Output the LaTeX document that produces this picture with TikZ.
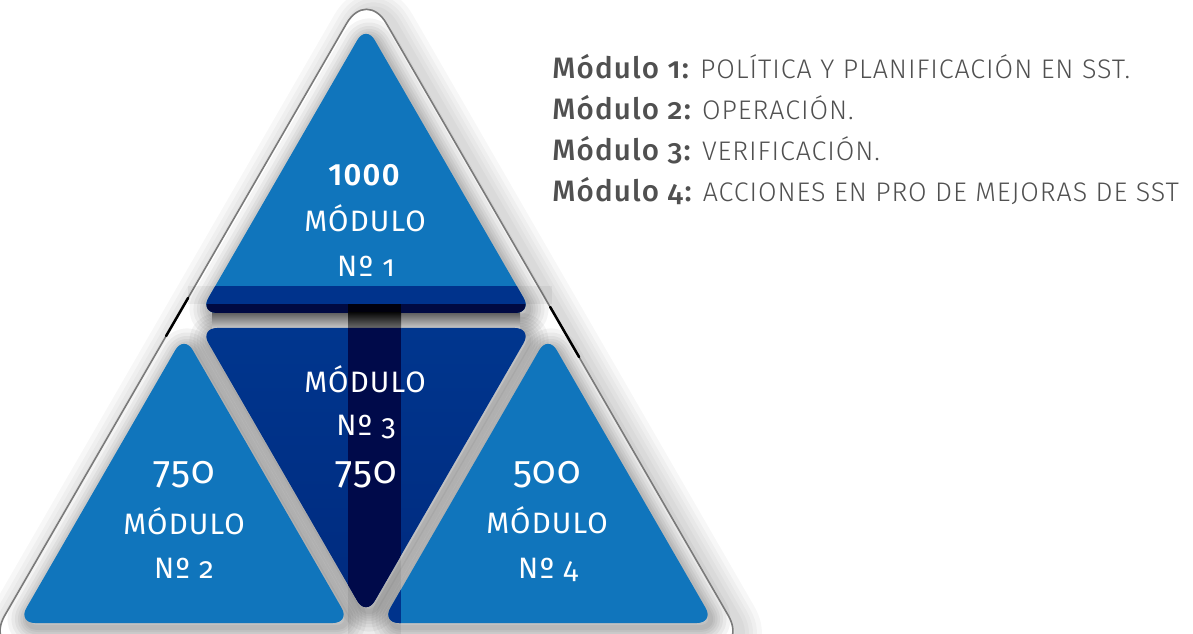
\documentclass[tikz,border=0pt]{standalone}
\usepackage{fontspec}
\IfFontExistsTF{Fira Sans Light}{%
  \newfontfamily\legf{Fira Sans Light}[Numbers=OldStyle, LetterSpace=3.5]}{%
  \newfontfamily\legf{Fira Sans}[Numbers=OldStyle, LetterSpace=3.5]}
\IfFontExistsTF{Fira Sans Medium}{%
  \newfontfamily\legbf{Fira Sans Medium}[Numbers=OldStyle, LetterSpace=4]}{%
  \newfontfamily\legbf{Fira Sans}[Numbers=OldStyle, LetterSpace=4, FakeBold=1]}
\IfFontExistsTF{Fira Sans SemiBold}{%
  \newfontfamily\semif{Fira Sans SemiBold}[Numbers=Lining, LetterSpace=4]}{%
  \newfontfamily\semif{Fira Sans}[Numbers=Lining, LetterSpace=4, FakeBold=1.5]}
\newfontfamily\modf{Fira Sans}[Numbers=OldStyle, LetterSpace=4]
\newfontfamily\numf{Fira Sans}[Numbers=OldStyle, LetterSpace=3]
\newcommand\legb{\legbf\fontsize{16.8}{18}\selectfont}
\definecolor{mblue}{HTML}{1075BC}
\definecolor{mdark}{HTML}{00368E}
\definecolor{mdarkb}{HTML}{002A7E}
\definecolor{navy}{HTML}{000A4A}
\definecolor{navyb}{HTML}{000A42}
\definecolor{bandc}{HTML}{00338C}
\definecolor{txtg}{HTML}{505050}
\definecolor{frame}{HTML}{7A7A7A}
\newcommand\softshadow[3]{%
  \foreach \w in {40,32,25,19,14,9,5} {%
    \draw[black, opacity=0.045, line width=\w*0.02cm, rounded corners=0.35cm, line join=round]
      ([xshift=0.06cm,yshift=-0.09cm]#1) -- ([xshift=0.06cm,yshift=-0.09cm]#2) -- ([xshift=0.06cm,yshift=-0.09cm]#3) -- cycle;
  }}
\begin{document}
\begin{tikzpicture}[x=0.02cm,y=-0.02cm,
  tri/.style={rounded corners=0.35cm},
  modtxt/.style={text=white, font=\modf\fontsize{16.8}{18}\selectfont, inner sep=0pt, anchor=base},
  numtxt/.style={text=white, font=\numf\fontsize{22}{24}\selectfont, inner sep=0pt, anchor=base},
  boldnum/.style={text=white, font=\semif\fontsize{17.5}{20}\selectfont, inner sep=0pt, anchor=base},
  legend/.style={text=txtg, font=\legf\fontsize{15.3}{16}\selectfont, inner sep=0pt, anchor=base west}
]
\useasboundingbox (0,0) rectangle (1193,634);
\clip (0,0) rectangle (1193,634);
% coordinates
\coordinate (O1) at (-15.2,650); \coordinate (O2) at (748.2,650); \coordinate (O3) at (366.5,-11);
\coordinate (A1) at (199.7,313); \coordinate (A2) at (532.3,313); \coordinate (A3) at (366,25);
\coordinate (C1) at (199.7,328); \coordinate (C2) at (532.3,328); \coordinate (C3) at (366,616);
\coordinate (B1) at (17.7,623);  \coordinate (B2) at (350.3,623); \coordinate (B3) at (184,335);
\coordinate (D1) at (381.7,623); \coordinate (D2) at (714.3,623); \coordinate (D3) at (548,335);
% frame edge points for the dark segments
\coordinate (L1) at (188.1,298); \coordinate (L2) at (166.1,336);
\coordinate (R1) at (550.2,307); \coordinate (R2) at (579.1,357);
% outer glow (to the right)
\foreach \w in {44,34,26,18,10} {
  \draw[black, opacity=0.03, line width=\w*0.02cm, rounded corners=0.8cm, line join=round]
    ([xshift=0.14cm,yshift=-0.04cm]O1) -- ([xshift=0.14cm,yshift=-0.04cm]O3) -- ([xshift=0.14cm,yshift=-0.04cm]O2) -- cycle;
}
\fill[rounded corners=0.8cm, white] (O1) -- (O3) -- (O2) -- cycle;
% soft shadows of the inner triangles
\softshadow{B1}{B2}{B3}
\softshadow{D1}{D2}{D3}
\softshadow{C1}{C2}{C3}
\softshadow{A1}{A2}{A3}
\shade[top color=black!62, bottom color=black!18] (212,313) rectangle (520,329);
% triangles
\fill[tri, mblue] (B1) -- (B2) -- (B3) -- cycle;
\fill[tri, mblue] (D1) -- (D2) -- (D3) -- cycle;
\path[tri, top color=mdark, bottom color=mdarkb] (C1) -- (C2) -- (C3) -- cycle;
\fill[tri, mblue] (A1) -- (A2) -- (A3) -- cycle;
% frame outline
\draw[rounded corners=0.8cm, frame, line width=0.032cm] (O1) -- (O3) -- (O2) -- cycle;
\draw[black, line width=0.05cm, line cap=round] (L1) -- (L2);
\draw[black, line width=0.05cm, line cap=round] (R1) -- (R2);
% horizontal band
\fill[black, opacity=0.05] (188,286) rectangle (552,304);
\begin{scope}
  \clip[tri] (A1) -- (A2) -- (A3) -- cycle;
  \fill[bandc] (150,286) rectangle (600,304);
  \fill[navyb] (150,304) rectangle (600,330);
  \fill[black!95!blue] (348,304) rectangle (401,330);
\end{scope}
% vertical strip
\fill[black, opacity=0.07] (348,329) rectangle (401,634);
\shade[top color=black!95, bottom color=black!55] (348,313) rectangle (401,329);
\begin{scope}
  \clip[tri] (C1) -- (C2) -- (C3) -- cycle;
  \fill[navy] (348,300) rectangle (401,634);
\end{scope}
\begin{scope}
  \clip[tri] (D1) -- (D2) -- (D3) -- cycle;
  \fill[bandc] (348,300) rectangle (401,634);
\end{scope}
% texts in triangles
\node[boldnum] (n1) at (364,186) {1000};
\node[modtxt] (m1) at (365,232) {MÓDULO};
\node[modtxt] (k1) at (366,277) {Nº 1};
\node[numtxt] (n2) at (184,483) {750};
\node[modtxt] (m2) at (184,534) {MÓDULO};
\node[modtxt] (k2) at (184,578) {Nº 2};
\node[modtxt] (m3) at (365,393) {MÓDULO};
\node[modtxt] (k3) at (366,436) {Nº 3};
\node[numtxt] (n3) at (366,483) {750};
\node[numtxt] (n4) at (547,483) {500};
\node[modtxt] (m4) at (547,533) {MÓDULO};
\node[modtxt] (k4) at (548,578) {Nº 4};
% legend
\node[legend] (l1) at (552,79) {{\legb Módulo 1:} POLÍTICA Y PLANIFICACIÓN EN SST.};
\node[legend] (l2) at (552,120) {{\legb Módulo 2:} OPERACIÓN.};
\node[legend] (l3) at (552,161) {{\legb Módulo 3:} VERIFICACIÓN.};
\node[legend] (l4) at (552,202) {{\legb Módulo 4:} ACCIONES EN PRO DE MEJORAS DE SST};
\end{tikzpicture}
\end{document}
